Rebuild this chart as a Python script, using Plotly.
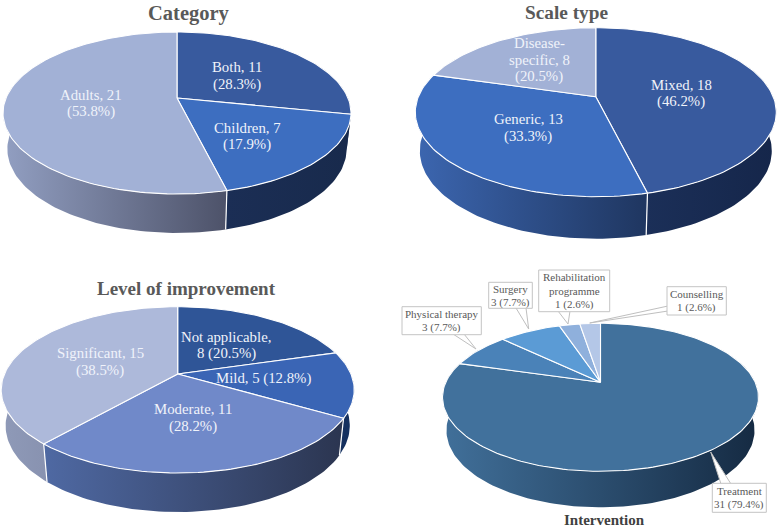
import math
import plotly.graph_objects as go

# ---------- data ----------
category_names = ["Both", "Children", "Adults"]
category_values = [11, 7, 21]
category_labels = [["Both, 11", "(28.3%)"], ["Children, 7", "(17.9%)"], ["Adults, 21", "(53.8%)"]]

scale_names = ["Mixed", "Generic", "Disease-specific"]
scale_values = [18, 13, 8]
scale_labels = [["Mixed, 18", "(46.2%)"], ["Generic, 13", "(33.3%)"], ["Disease-", "specific, 8", "(20.5%)"]]

level_names = ["Not applicable", "Mild", "Moderate", "Significant"]
level_values = [8, 5, 11, 15]
level_labels = [["Not applicable,", "8 (20.5%)"], ["Mild, 5 (12.8%)"], ["Moderate, 11", "(28.2%)"], ["Significant, 15", "(38.5%)"]]

intervention_names = ["Treatment", "Physical therapy", "Surgery", "Rehabilitation programme", "Counselling"]
intervention_values = [31, 3, 3, 1, 1]
intervention_labels = [["Treatment", "31 (79.4%)"], ["Physical therapy", "3 (7.7%)"], ["Surgery", "3 (7.7%)"],
                       ["Rehabilitation", "programme", "1 (2.6%)"], ["Counselling", "1 (2.6%)"]]

titles = ["Category", "Scale type", "Level of improvement", "Intervention"]

# ---------- styling / layout ----------
SERIF = "Liberation Serif"
W, H = 777, 529

pies = [
    dict(names=category_names, values=category_values,
         vx=177, vy=98, rx=174, up=66, down=96, wall=39,
         tops=["#385a9e", "#3d6ec0", "#a2b1d6"],
         walls=[("#1f3560", "#1f3560"), ("#1b2e55", "#182a4c"), ("#929fc2", "#4d5269")],
         label_xy=[(237, 75.5), (247, 136), (91, 103)]),
    dict(names=scale_names, values=scale_values,
         vx=595.8, vy=96.7, rx=180.5, up=69, down=100, wall=42,
         tops=["#385a9e", "#3d6ec0", "#a2b1d6"],
         walls=[("#1b2f58", "#15264a"), ("#3c66b0", "#1f3660"), ("#7f8eb0", "#7f8eb0")],
         label_xy=[(681, 93), (528, 127.5), (539, 59.7)]),
    dict(names=level_names, values=level_values,
         vx=177.7, vy=374, rx=176.5, up=67.3, down=99, wall=39,
         tops=["#2f5597", "#3a65b5", "#7089c9", "#adb9da"],
         walls=[("#1b3057", "#1b3057"), ("#15305f", "#15305f"), ("#4f69a3", "#2b3550"), ("#8f9ab8", "#8892b0")],
         label_xy=[(226, 345.3), (263, 378), (192.7, 417.8), (100, 361.5)]),
    dict(names=intervention_names, values=intervention_values,
         vx=600.5, vy=382.3, rx=158, up=59, down=89, wall=36,
         tops=["#41719c", "#4a82b8", "#5b9bd5", "#8fb0dc", "#b4c7e7"],
         walls=[("#41709a", "#152a42"), ("#2b4f72", "#2b4f72"), ("#34608a", "#34608a"), ("#5f7ea5", "#5f7ea5"), ("#7f90aa", "#7f90aa")],
         label_xy=None),
]


def projector(p):
    ratio = p["down"] / p["up"]
    k = (ratio - 1) / (ratio + 1)
    a = p["up"] * (1 + k)
    b = p["rx"] * math.sqrt(1 - k * k)

    def top(theta):
        t = math.radians(theta)
        X, Y = math.sin(t), math.cos(t)
        d = 1 + k * Y
        return p["vx"] + b * X / d, p["vy"] - a * Y / d

    def bottom(theta):
        x, y = top(theta)
        Y = math.cos(math.radians(theta))
        return p["vx"] + 0.975 * (x - p["vx"]), y + p["wall"] * (0.9 - 0.1 * Y)

    return top, bottom


def arc(fn, a0, a1, step=1.5):
    n = max(2, int(abs(a1 - a0) / step) + 1)
    return [fn(a0 + (a1 - a0) * i / (n - 1)) for i in range(n)]


fig = go.Figure()

for p in pies:
    top, bottom = projector(p)
    total = sum(p["values"])
    edges = [0.0]
    for v in p["values"]:
        edges.append(edges[-1] + 360 * v / total)

    # side walls
    for i, name in enumerate(p["names"]):
        a0, a1 = max(edges[i], 60), min(edges[i + 1], 300)
        if a1 <= a0:
            continue
        pts = arc(top, a0, a1) + arc(bottom, a1, a0)
        left, right = p["walls"][i]
        fig.add_trace(go.Scatter(
            x=[q[0] for q in pts] + [pts[0][0]], y=[q[1] for q in pts] + [pts[0][1]],
            mode="lines", line=dict(width=0), fill="toself",
            fillgradient=dict(type="horizontal", colorscale=[[0, left], [1, right]]),
            hoverinfo="skip", name=name + " wall"))
    # wall separators
    for e in edges[1:-1]:
        if 105 < e < 255:
            q0, q1 = top(e), bottom(e)
            fig.add_trace(go.Scatter(x=[q0[0], q1[0]], y=[q0[1], q1[1]], mode="lines",
                                     line=dict(color="#ffffff", width=1.2), hoverinfo="skip"))
    # top faces
    for i, name in enumerate(p["names"]):
        pts = [(p["vx"], p["vy"])] + arc(top, edges[i], edges[i + 1]) + [(p["vx"], p["vy"])]
        fig.add_trace(go.Scatter(
            x=[q[0] for q in pts], y=[q[1] for q in pts],
            mode="lines", line=dict(color="#ffffff", width=1.1), fill="toself",
            fillcolor=p["tops"][i], hoverinfo="skip", name=name))

annotations = []


def put_lines(lines, cx, cy, size, color, spacing):
    start = cy - spacing * (len(lines) - 1) / 2
    for j, line in enumerate(lines):
        annotations.append(dict(x=cx, y=start + j * spacing, text=line, showarrow=False,
                                xref="x", yref="y", xanchor="center", yanchor="middle",
                                font=dict(family=SERIF, size=size, color=color)))


labels_by_pie = [category_labels, scale_labels, level_labels]
for p, labels in zip(pies[:3], labels_by_pie):
    for lines, (cx, cy) in zip(labels, p["label_xy"]):
        put_lines(lines, cx, cy, 14.8, "#f0f3fa", 17)

# Intervention call-outs: box (x0, y0, x1, y1), leader base and tip
callouts = [
    dict(box=(712.3, 483.3, 766.3, 512.3), base=[(721, 484), (731, 484)], tip=(710.7, 452)),
    dict(box=(402, 306.7, 481.3, 334.7), base=[(453, 334), (464, 334)], tip=(476, 349)),
    dict(box=(488.7, 282.3, 532.3, 308.3), base=[(516, 308), (526, 308)], tip=(528.7, 329)),
    dict(box=(538.7, 270, 609.7, 311.7), base=[(558, 311), (570, 311)], tip=(568, 324)),
    dict(box=(667, 286.7, 726.3, 315), base=[(668, 306), (668, 311)], tip=(589.7, 323)),
]
shapes = []
for c, lines in zip(callouts, intervention_labels):
    xs = [c["base"][0][0], c["tip"][0], c["base"][1][0]]
    ys = [c["base"][0][1], c["tip"][1], c["base"][1][1]]
    fig.add_trace(go.Scatter(x=xs, y=ys, mode="lines", fill="toself", fillcolor="#ffffff",
                             line=dict(color="#bfbfbf", width=1), hoverinfo="skip"))
    x0, y0, x1, y1 = c["box"]
    shapes.append(dict(type="rect", xref="x", yref="y", x0=x0, y0=y0, x1=x1, y1=y1,
                       line=dict(color="#c4c4c4", width=1), fillcolor="#ffffff", layer="above"))
    put_lines(lines, (x0 + x1) / 2, (y0 + y1) / 2, 11, "#595959", 13.6)

title_pos = [(189, 0.5, "top", 20.5, "#595959"), (566, 0.5, "top", 19.3, "#595959"),
             (186.7, 288, "middle", 19, "#595959"), (604.7, 528.5, "bottom", 15, "#404040")]
for t, (cx, cy, anchor, size, color) in zip(titles, title_pos):
    annotations.append(dict(x=cx, y=cy, text="<b>%s</b>" % t, showarrow=False, xref="x", yref="y",
                            xanchor="center", yanchor=anchor, borderpad=0,
                            font=dict(family=SERIF, size=size, color=color)))

fig.update_layout(
    width=W, height=H, margin=dict(l=0, r=0, t=0, b=0, pad=0),
    paper_bgcolor="#ffffff", plot_bgcolor="#ffffff", showlegend=False,
    xaxis=dict(range=[0, W], visible=False, fixedrange=True),
    yaxis=dict(range=[H, 0], visible=False, fixedrange=True),
    annotations=annotations, shapes=shapes,
)
fig.write_html("out.html", config={"displayModeBar": False},
               post_script="document.body.style.margin='0';")
